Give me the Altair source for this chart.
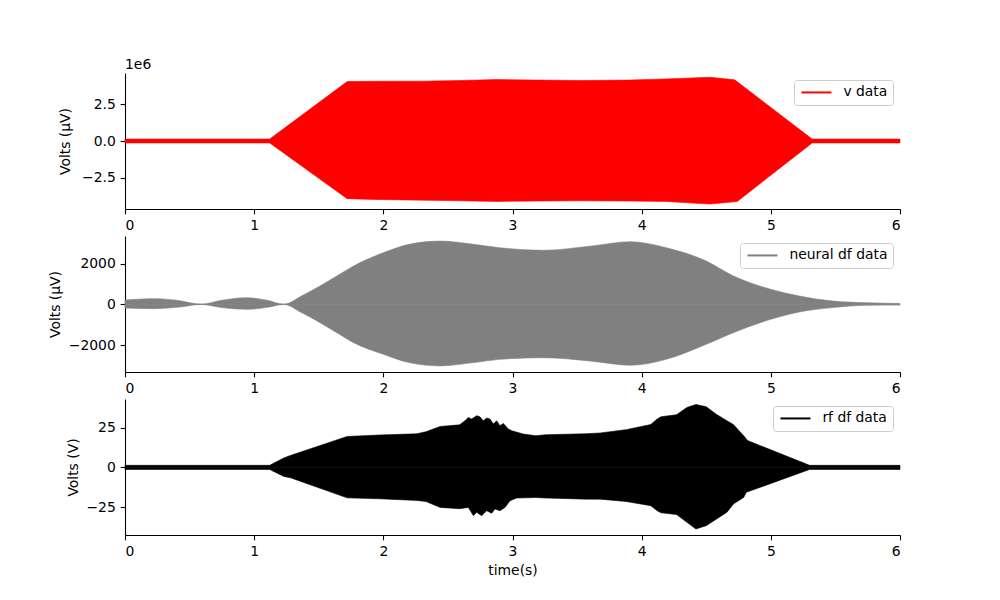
import altair as alt
import pandas as pd

FONT = "DejaVu Sans"
FS = 13.9

# ---------------- Panel 1: v data (values in units of 1e6 uV) ----------------
v_t_up = [0.0, 1.12, 1.72, 1.92, 2.30, 2.59, 2.88, 3.20, 3.52, 3.90, 4.19, 4.53, 4.72, 5.32, 6.0]
v_up = [0.13, 0.13, 4.02, 4.04, 4.05, 4.09, 4.16, 4.12, 4.09, 4.12, 4.20, 4.31, 4.14, 0.13, 0.13]
v_t_lo = [0.0, 1.12, 1.72, 1.92, 2.30, 2.59, 2.88, 3.20, 3.52, 3.90, 4.19, 4.53, 4.74, 5.32, 6.0]
v_lo = [-0.13, -0.13, -3.90, -3.95, -4.00, -4.04, -4.09, -4.06, -4.04, -4.06, -4.09, -4.27, -4.09, -0.13, -0.13]

# ---------------- Panel 2: neural df data (uV) ----------------
n_t = [0.0, 0.22, 0.40, 0.59, 0.75, 0.94, 1.10, 1.23, 1.37, 1.51, 1.64, 1.77, 2.00, 2.20,
       2.44, 2.70, 2.90, 3.24, 3.60, 3.91, 4.19, 4.50, 4.71, 5.00, 5.22, 5.48, 5.74, 6.0]
n_up = [210, 275, 200, 5, 200, 325, 200, 5, 420, 900, 1390, 1880, 2530, 2940,
        3100, 2940, 2775, 2650, 2850, 3070, 2775, 2120, 1390, 735, 407, 160, 78, 40]
n_lo = [-180, -215, -150, -5, -160, -245, -150, -5, -420, -900, -1390, -1880, -2450, -2860,
        -3020, -2860, -2700, -2620, -2780, -2990, -2700, -1960, -1390, -735, -377, -160, -50, -40]

# ---------------- Panel 3: rf df data (V) ----------------
r_t_up = [0.0, 1.12, 1.23, 1.28, 1.72, 1.97, 2.26, 2.33, 2.44, 2.59, 2.632, 2.658, 2.684, 2.723,
          2.748, 2.774, 2.800, 2.826, 2.852, 2.877, 2.903, 2.929, 2.968, 2.994, 3.084, 3.18,
          3.26, 3.57, 3.68, 3.88, 4.07, 4.12, 4.15, 4.27, 4.35, 4.42, 4.50, 4.58, 4.66, 4.71,
          4.79, 4.82, 5.30, 6.0]
r_up = [1.3, 1.3, 6.0, 7.5, 19.5, 20.4, 21.2, 22.5, 25.8, 26.8, 29.4, 31.5, 30.5, 32.6,
        31.9, 29.4, 31.1, 30.5, 27.3, 29.4, 26.3, 27.7, 24.2, 23.1, 21.0, 20.0,
        20.6, 21.2, 21.7, 23.8, 27.0, 30.5, 31.9, 33.2, 37.8, 39.7, 38.2, 33.4, 29.4, 27.0,
        19.9, 16.9, 1.3, 1.3]
r_t_lo = [0.0, 1.12, 1.23, 1.28, 1.72, 1.97, 2.26, 2.33, 2.44, 2.59, 2.658, 2.697, 2.723, 2.761,
          2.800, 2.839, 2.864, 2.903, 2.942, 2.981, 3.032, 3.18, 3.26, 3.57, 3.68, 3.88,
          4.07, 4.12, 4.15, 4.27, 4.35, 4.42, 4.50, 4.58, 4.66, 4.71, 4.79, 4.81, 5.30, 6.0]
r_lo = [-1.3, -1.3, -5.7, -6.5, -19.2, -19.8, -20.8, -21.5, -25.2, -26.0, -25.2, -30.4, -28.3, -30.4,
        -27.3, -28.9, -26.2, -27.3, -25.2, -21.0, -19.3, -19.0, -19.3, -20.0, -20.0, -21.5,
        -24.1, -27.3, -28.6, -29.7, -34.6, -38.8, -36.7, -32.5, -28.3, -23.1, -18.9, -15.7, -1.3, -1.3]

x_ticks = [0, 1, 2, 3, 4, 5, 6]
offset_label = "1e6"


def frame(t_up, up, t_lo, lo, label):
    a = pd.DataFrame({"t": t_up, "v": up, "side": "upper"})
    b = pd.DataFrame({"t": t_lo, "v": lo, "side": "lower"})
    return pd.concat([a, b], ignore_index=True).assign(series=label)


def panel(df, label, color, ydom, yticks, yfmt, ytitle, title_x, xtitle, interp):
    if xtitle:
        xaxis = alt.Axis(values=x_ticks, format="d", grid=False, title=xtitle, titlePadding=5)
    else:
        xaxis = alt.Axis(values=x_ticks, format="d", grid=False, title=None)
    return alt.Chart(df).mark_area(fill=color, interpolate=interp, strokeWidth=0.6).encode(
        x=alt.X("t:Q", scale=alt.Scale(domain=[0, 6], nice=False, zero=False), axis=xaxis),
        y=alt.Y("v:Q", scale=alt.Scale(domain=ydom, nice=False, zero=False),
                axis=alt.Axis(values=yticks, format=yfmt, title=ytitle, titleX=title_x, grid=False)),
        y2=alt.datum(0),
        detail="side:N",
        stroke=alt.Stroke("series:N", scale=alt.Scale(domain=[label], range=[color]),
                          legend=alt.Legend(title=None, orient="top-right", offset=7,
                                            symbolType="M-1,0H5", symbolSize=100,
                                            symbolStrokeWidth=2, labelOffset=30,
                                            padding=5.5, strokeColor="#cccccc",
                                            fillColor="white", cornerRadius=3,
                                            labelFontSize=FS, labelFont=FONT)),
    ).properties(width=775, height=136)


W, H = 775, 136
p1_area = panel(frame(v_t_up, v_up, v_t_lo, v_lo, "v data"), "v data", "#ff0000",
                [-4.6, 4.6], [-2.5, 0, 2.5], ".1f", "Volts (μV)", -53, None, "linear")
p1_text = alt.Chart(pd.DataFrame({"label": [offset_label]})).mark_text(
    align="left", baseline="alphabetic", fontSize=FS, font=FONT, color="black"
).encode(x=alt.value(0), y=alt.value(-4), text="label:N")
p1 = alt.layer(p1_area, p1_text).properties(width=W, height=H)

p2 = panel(frame(n_t, n_up, n_t, n_lo, "neural df data"), "neural df data", "#808080",
           [-3320, 3350], [-2000, 0, 2000], "d", "Volts (μV)", -63, None, "monotone")

p3 = panel(frame(r_t_up, r_up, r_t_lo, r_lo, "rf df data"), "rf df data", "#000000",
           [-42.6, 43.1], [-25, 0, 25], "d", "Volts (V)", -45, "time(s)", "linear")

chart = alt.vconcat(p1, p2, p3, spacing=3).resolve_scale(
    x="independent", y="independent", stroke="independent"
).properties(
    padding={"left": 40, "top": 50, "right": 10, "bottom": 10}
).configure(font=FONT).configure_view(stroke=None).configure_axis(
    domainColor="black", tickColor="black", labelColor="black", titleColor="black",
    labelFontSize=FS, titleFontSize=FS, titleFontWeight="normal", labelFont=FONT, titleFont=FONT,
    tickSize=4.86, labelPadding=4.86, domainWidth=1.1, tickWidth=1.1,
)

chart.save("out.html", embed_options={"renderer": "svg", "actions": False})
